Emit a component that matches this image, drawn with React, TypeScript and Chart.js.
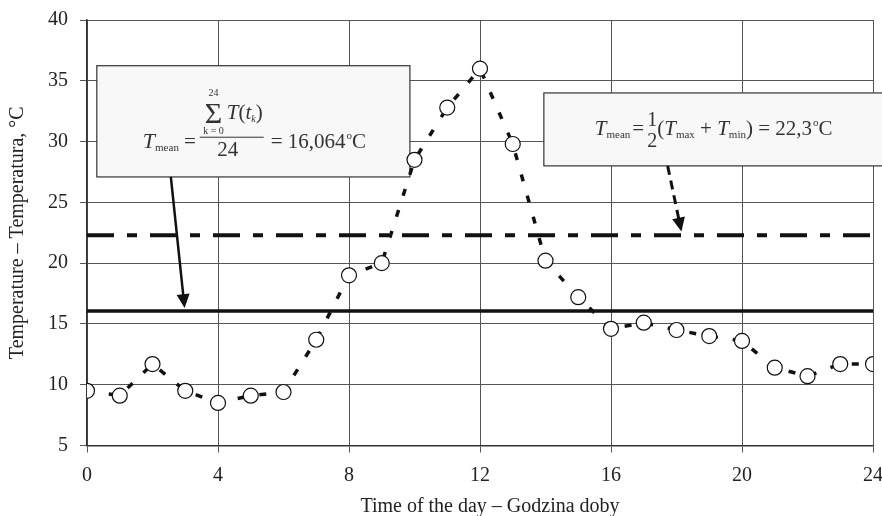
import React, { useEffect, useRef } from 'react';
import { Chart, registerables } from 'chart.js';

Chart.register(...registerables);

// ---- data ----
const hours = [0, 1, 2, 3, 4, 5, 6, 7, 8, 9, 10, 11, 12, 13, 14, 15, 16, 17, 18, 19, 20, 21, 22, 23, 24];
const temperatures = [9.5, 9.1, 11.7, 9.5, 8.5, 9.1, 9.4, 13.7, 19.0, 20.0, 28.5, 32.8, 36.0, 29.8, 20.2, 17.2, 14.6, 15.1, 14.5, 14.0, 13.6, 11.4, 10.7, 11.7, 11.7];
const meanIntegral = 16.064;
const meanMinMax = 22.3;
const xRange = [0, 24];
const yRange = [5, 40];
const xStep = 4;
const yStep = 5;
const xTitle = 'Time of the day – Godzina doby';
const yTitle = 'Temperature – Temperatura, °C';

// annotation geometry in data units
const box1 = { x0: 0.3, x1: 9.86, yTop: 36.24, yBottom: 27.09 };
const box2 = { x0: 13.95, x1: 24.6, yTop: 34.0, yBottom: 28.0 };
const arrow1 = { x0: 2.56, y0: 27.09, x1: 2.98, y1: 16.3 };
const arrow2 = { x0: 17.73, y0: 28.0, x1: 18.15, y1: 22.6 };

const FAM = '"Liberation Serif", "Times New Roman", serif';
const TXT = '#333';

type Run = { t: string; f: string; dy?: number; dx?: number };
function runs(ctx: CanvasRenderingContext2D, x: number, y: number, list: Run[]) {
  for (const r of list) {
    ctx.font = r.f;
    x += r.dx || 0;
    ctx.fillText(r.t, x, y + (r.dy || 0));
    x += ctx.measureText(r.t).width;
  }
  return x;
}

function drawArrow(ctx: CanvasRenderingContext2D, x0: number, y0: number, x1: number, y1: number, dash: number[], w: number) {
  const ang = Math.atan2(y1 - y0, x1 - x0);
  const hl = 14, hw = 13;
  const bx = x1 - hl * Math.cos(ang), by = y1 - hl * Math.sin(ang);
  ctx.save();
  ctx.strokeStyle = '#111';
  ctx.fillStyle = '#111';
  ctx.lineWidth = w;
  ctx.setLineDash(dash);
  ctx.beginPath();
  ctx.moveTo(x0, y0);
  ctx.lineTo(bx + 1 * Math.cos(ang), by + 1 * Math.sin(ang));
  ctx.stroke();
  ctx.setLineDash([]);
  ctx.beginPath();
  ctx.moveTo(x1, y1);
  ctx.lineTo(bx - (hw / 2) * Math.sin(ang), by + (hw / 2) * Math.cos(ang));
  ctx.lineTo(bx + (hw / 2) * Math.sin(ang), by - (hw / 2) * Math.cos(ang));
  ctx.closePath();
  ctx.fill();
  ctx.restore();
}

const annotPlugin = {
  id: 'annot',
  beforeDatasetsDraw(chart: any) {
    const ctx: CanvasRenderingContext2D = chart.ctx;
    const xs = chart.scales.x, ys = chart.scales.y;
    const px = (v: number) => xs.getPixelForValue(v);
    const py = (v: number) => ys.getPixelForValue(v);
    ctx.save();
    // boxes
    for (const b of [box1, box2]) {
      const l = px(b.x0), r = px(b.x1), t = py(b.yTop), bt = py(b.yBottom);
      ctx.fillStyle = '#f8f8f8';
      ctx.fillRect(l, t, r - l, bt - t);
      ctx.strokeStyle = '#333';
      ctx.lineWidth = 1.2;
      ctx.strokeRect(l, t, r - l, bt - t);
    }
    // arrows
    drawArrow(ctx, px(arrow1.x0), py(arrow1.y0), px(arrow1.x1), py(arrow1.y1), [], 2.5);
    drawArrow(ctx, px(arrow2.x0), py(arrow2.y0), px(arrow2.x1), py(arrow2.y1), [9, 6], 3);

    ctx.fillStyle = TXT;
    ctx.textBaseline = 'alphabetic';
    ctx.textAlign = 'left';
    // box 1 formula
    {
      const L = px(box1.x0), T = py(box1.yTop);
      const bx = L + 46, by = T + 82;
      let x = runs(ctx, bx, by, [
        { t: 'T', f: `italic 22px ${FAM}` },
        { t: 'mean', f: `11px ${FAM}`, dy: 3, dx: 0 },
        { t: '=', f: `21px ${FAM}`, dx: 5 },
      ]);
      const fx = x + 4;
      const fw = 64;
      // sigma
      ctx.font = `30px ${FAM}`;
      ctx.fillText('Σ', fx + 5, T + 57);
      const sc = fx + 5 + ctx.measureText('Σ').width / 2;
      ctx.textAlign = 'center';
      ctx.font = `10px ${FAM}`;
      ctx.fillText('24', sc, T + 30);
      ctx.font = `10px ${FAM}`;
      ctx.fillText('k = 0', sc, T + 68);
      ctx.textAlign = 'left';
      runs(ctx, fx + 27, T + 53, [
        { t: 'T', f: `italic 21px ${FAM}` },
        { t: '(', f: `21px ${FAM}` },
        { t: 't', f: `italic 21px ${FAM}` },
        { t: 'k', f: `italic 10px ${FAM}`, dy: 3 },
        { t: ')', f: `21px ${FAM}` },
      ]);
      ctx.save();
      ctx.strokeStyle = TXT;
      ctx.lineWidth = 1;
      ctx.beginPath();
      ctx.moveTo(fx, T + 71.5);
      ctx.lineTo(fx + fw, T + 71.5);
      ctx.stroke();
      ctx.restore();
      ctx.textAlign = 'center';
      ctx.font = `21px ${FAM}`;
      ctx.fillText('24', fx + 28, T + 90);
      ctx.textAlign = 'left';
      runs(ctx, fx + fw + 7, by, [
        { t: '= 16,064', f: `21px ${FAM}` },
        { t: 'o', f: `11px ${FAM}`, dy: -9, dx: 1 },
        { t: 'C', f: `21px ${FAM}` },
      ]);
    }
    // box 2 formula
    {
      const L = px(box2.x0), T = py(box2.yTop);
      const bx = L + 51, by = T + 42;
      let x = runs(ctx, bx, by, [
        { t: 'T', f: `italic 21px ${FAM}` },
        { t: 'mean', f: `11px ${FAM}`, dy: 3 },
        { t: '=', f: `21px ${FAM}`, dx: 2 },
      ]);
      const fx = x + 3;
      ctx.font = `20px ${FAM}`;
      ctx.fillText('1', fx, by - 9);
      ctx.fillText('2', fx, by + 12);
      x = fx + ctx.measureText('1').width;
      runs(ctx, x, by, [
        { t: '(', f: `21px ${FAM}` },
        { t: 'T', f: `italic 21px ${FAM}` },
        { t: 'max', f: `11px ${FAM}`, dy: 3 },
        { t: ' + ', f: `21px ${FAM}` },
        { t: 'T', f: `italic 21px ${FAM}` },
        { t: 'min', f: `11px ${FAM}`, dy: 3 },
        { t: ') = 22,3', f: `21px ${FAM}` },
        { t: 'o', f: `11px ${FAM}`, dy: -9, dx: 1 },
        { t: 'C', f: `21px ${FAM}` },
      ]);
    }
    // x-axis title
    ctx.fillStyle = '#222';
    ctx.textAlign = 'center';
    ctx.font = `20px ${FAM}`;
    ctx.fillText(xTitle, (xs.left + xs.right) / 2 + 10, 512);
    ctx.restore();
  },
};

export default function App() {
  const ref = useRef<HTMLCanvasElement>(null);
  useEffect(() => {
    document.body.style.margin = '0';
    const canvas = ref.current!;
    const chart = new Chart(canvas, {
      type: 'line',
      data: {
        datasets: [
          {
            label: 'Temperature',
            data: hours.map((h, i) => ({ x: h, y: temperatures[i] })),
            borderColor: '#111',
            borderWidth: 3.5,
            borderDash: [7, 15],
            pointRadius: 7.5,
            pointBackgroundColor: '#fff',
            pointBorderColor: '#111',
            pointBorderWidth: 1.2,
            tension: 0,
            order: 0,
          },
          {
            label: 'Mean (integral)',
            data: [{ x: xRange[0], y: meanIntegral }, { x: xRange[1], y: meanIntegral }],
            borderColor: '#111',
            borderWidth: 3.5,
            pointRadius: 0,
            order: 1,
          },
          {
            label: 'Mean (min-max)',
            data: [{ x: xRange[0], y: meanMinMax }, { x: xRange[1], y: meanMinMax }],
            borderColor: '#111',
            borderWidth: 4,
            borderDash: [27, 13, 10, 13],
            pointRadius: 0,
            order: 2,
          },
        ],
      },
      options: {
        responsive: false,
        animation: false,
        layout: { autoPadding: false, padding: { top: 20, right: 9, left: 0, bottom: 0 } },
        plugins: { legend: { display: false }, tooltip: { enabled: false } },
        scales: {
          x: {
            type: 'linear',
            min: xRange[0],
            max: xRange[1],
            ticks: { stepSize: xStep, color: '#222', font: { family: FAM, size: 20 }, padding: 11 },
            grid: { color: '#555', lineWidth: 1, tickLength: 7 },
            border: { color: '#333', width: 1.5 },
            afterFit: (s: any) => { s.height = 70.5; s.paddingLeft = 0; s.paddingRight = 0; },
          },
          y: {
            type: 'linear',
            min: yRange[0],
            max: yRange[1],
            ticks: { stepSize: yStep, color: '#222', font: { family: FAM, size: 20 }, padding: 12 },
            grid: { color: '#555', lineWidth: 1, tickLength: 7 },
            border: { color: '#333', width: 1.5 },
            title: { display: true, text: yTitle, color: '#222', font: { family: FAM, size: 20 }, padding: { top: 6, bottom: 0 } },
            afterFit: (s: any) => { s.width = 87; s.paddingTop = 0; s.paddingBottom = 0; },
          },
        },
      },
      plugins: [annotPlugin],
    });
    return () => chart.destroy();
  }, []);
  return <canvas ref={ref} width={882} height={516} style={{ display: 'block' }} />;
}
